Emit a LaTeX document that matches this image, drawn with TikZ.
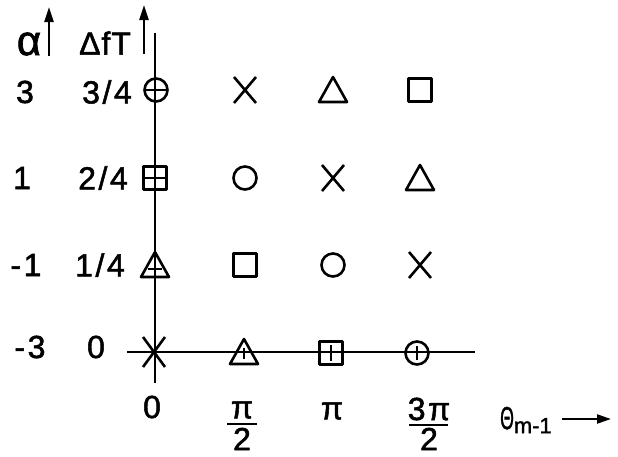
\documentclass[tikz,border=0pt]{standalone}
\usepackage{fontspec}
\setmainfont{Liberation Sans}[LetterSpace=8,FakeBold=1.6]
\usetikzlibrary{arrows.meta}
\begin{document}
\begin{tikzpicture}[x=1pt,y=-1pt,
  sym/.style={line width=2.6pt,line join=round},
  axisv/.style={line width=1.2pt},
  axish/.style={line width=1.8pt},
  lab/.style={inner sep=0pt,font=\fontsize{32}{34}\selectfont},
  bigarrow/.style={line width=2.6pt,-{Triangle[length=15pt,width=9pt]}},
  fracbar/.style={line width=2.6pt},
  pics/circsym/.style={code={\draw[sym] (0,0) circle (11.5);}},
  pics/sqsym/.style={code={\draw[sym] (-11.5,-11.5) rectangle (11.5,11.5);}},
  pics/trisym/.style={code={\draw[sym] (-14,12) -- (14,12) -- (0,-13) -- cycle;}},
  pics/crosssym/.style={code={\draw[sym] (-11,-13) -- (11,13) (-11,13) -- (11,-13);}},
  pics/hbar/.style={code={\draw[sym] (-11,0) -- (11,0);}},
  pics/vtick/.style={code={\draw[line width=1.6pt] (0,-8) -- (0,8);}}
]
\useasboundingbox (0,0) rectangle (618,456);
\fill[white] (0,0) rectangle (618,456);

% grid positions
\coordinate (a3) at (156,90);  \coordinate (b3) at (245,90);  \coordinate (c3) at (333,90);  \coordinate (d3) at (420,90);
\coordinate (a2) at (155,178); \coordinate (b2) at (245,178); \coordinate (c2) at (333,178); \coordinate (d2) at (420,178);
\coordinate (a1) at (155,265); \coordinate (b1) at (245,265); \coordinate (c1) at (333,265); \coordinate (d1) at (420,265);
\coordinate (a0) at (154,352); \coordinate (b0) at (244,352); \coordinate (c0) at (331,353); \coordinate (d0) at (417,353);

% axes
\coordinate (vtop) at (155,33);
\coordinate (vbot) at (155,383);
\coordinate (hleft) at (127,352);
\coordinate (hright) at (475,352);
\draw[axisv] (vbot) -- (vtop);
\draw[axish] (hleft) -- (hright);

% row 3/4
\pic at (a3) {circsym}; \pic at (a3) {hbar};
\pic at (b3) {crosssym};
\pic at (c3) {trisym};
\pic at (d3) {sqsym};
% row 2/4
\pic at (a2) {sqsym}; \pic at (a2) {hbar};
\pic at (b2) {circsym};
\pic at (c2) {crosssym};
\pic at (d2) {trisym};
% row 1/4
\pic at (a1) {trisym}; \draw[sym] ([xshift=-7pt,yshift=-4pt]a1) -- ([xshift=7pt,yshift=-4pt]a1);
\pic at (b1) {sqsym};
\pic at (c1) {circsym};
\pic at (d1) {crosssym};
% row 0
\draw[sym] ([xshift=-11pt,yshift=15pt]a0) -- ([xshift=11pt,yshift=-15pt]a0);
\draw[sym] ([xshift=-11pt,yshift=-15pt]a0) -- ([xshift=11pt,yshift=15pt]a0);
\draw[line width=2.8pt] (hleft) -- ([xshift=12pt]a0);
\begin{scope}[shift={(0,-2)}]
\pic at (b0) {trisym};
\end{scope}
\draw[line width=1.6pt] ([yshift=-7pt]b0) -- ([yshift=4pt]b0);
\pic at (c0) {sqsym}; \pic at (c0) {vtick};
\pic at (d0) {circsym};
\draw[line width=1.6pt] ([yshift=-7pt]d0) -- ([yshift=7pt]d0);

% header labels and arrows
\node[lab,font=\fontsize{42}{44}\selectfont] (alpha) at (29,44) {α};
\coordinate (alo) at (49,56); \coordinate (ahi) at (49,7);
\draw[bigarrow] (alo) -- (ahi);
\node[lab] (dft) at (105,43) {\addfontfeature{LetterSpace=3}ΔfT};
\coordinate (dlo) at (144,54); \coordinate (dhi) at (144,5);
\draw[bigarrow] (dlo) -- (dhi);

% row labels
\node[lab] (al3) at (25,92) {3};
\node[lab] (al1) at (22,178) {1};
\node[lab] (alm1) at (26,265) {-1};
\node[lab] (alm3) at (30,347) {-3};
\node[lab] (f3) at (107,92) {3/4};
\node[lab] (f2) at (103,178) {2/4};
\node[lab] (f1) at (100,265) {1/4};
\node[lab] (f0) at (96,347) {0};

% bottom labels
\node[lab] (t0) at (152,407) {0};
\node[lab] (tpa) at (242,410) {π};
\coordinate (bpa1) at (227,424); \coordinate (bpa2) at (257,424);
\draw[fracbar] (bpa1) -- (bpa2);
\node[lab] (tpb) at (242,439) {2};
\node[lab] (tp) at (332,411) {π};
\node[lab] (t3a) at (429,409) {3π};
\coordinate (b3a1) at (409,425); \coordinate (b3a2) at (448,425);
\draw[fracbar] (b3a1) -- (b3a2);
\node[lab] (t3b) at (429,439) {2};
\node[lab,anchor=west] (theta) at (500,420) {\addfontfeature{LetterSpace=0}\scalebox{0.55}[1]{Θ}\raisebox{-4pt}{\fontsize{22}{24}\selectfont m-1}};
\coordinate (th1) at (562,419); \coordinate (th2) at (611,419);
\draw[line width=2.2pt,-{Triangle[length=14pt,width=9pt]}] (th1) -- (th2);
\end{tikzpicture}
\end{document}
